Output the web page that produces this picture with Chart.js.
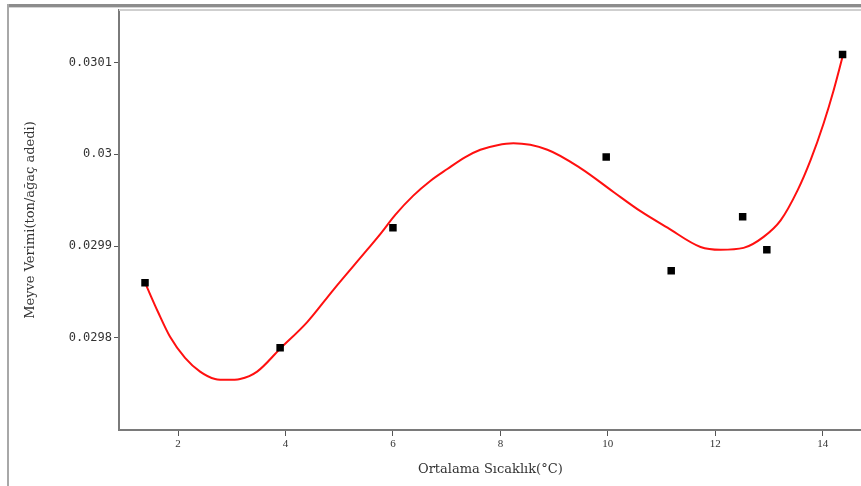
<!DOCTYPE html>
<html>
<head>
<meta charset="utf-8">
<script src="https://cdn.jsdelivr.net/npm/chart.js@4.4.1/dist/chart.umd.min.js"></script>
<style>
  html, body { margin: 0; padding: 0; background: #ffffff; }
  #wrap { position: relative; width: 861px; height: 486px; overflow: hidden; background: #fff; }
  #c { position: absolute; left: 0; top: 0; }
  .fr { position: absolute; pointer-events: none; }
</style>
</head>
<body>
<div id="wrap">
  <canvas id="c" width="867" height="486"></canvas>
  <div class="fr" style="left:7px; top:4px; width:854px; height:3px; background:#8c8c8c;"></div>
  <div class="fr" style="left:7px; top:7px; width:854px; height:1px; background:#d4d4d4;"></div>
  <div class="fr" style="left:7px; top:4px; width:2px; height:482px; background:#a8a8a8;"></div>
  <div class="fr" style="left:119px; top:9px; width:742px; height:2px; background:#cfcfcf;"></div>
</div>
<script>
// Measured points (Ortalama Sıcaklık, Meyve Verimi)
const pointX = [1.385, 3.900, 6.000, 9.970, 11.180, 12.510, 12.960, 14.370];
const pointY = [0.029860, 0.029789, 0.029920, 0.029997, 0.029873, 0.029932, 0.029896, 0.030109];

// Fitted curve
const curveX = [1.385, 1.627, 1.851, 2.130, 2.410, 2.689, 2.913, 3.155, 3.472, 3.900, 4.404, 4.888,
                5.522, 5.764, 6.043, 6.379, 6.695, 7.012, 7.348, 7.627, 7.944, 8.242, 8.875, 9.490,
                10.105, 10.608, 11.111, 11.726, 12.099, 12.527, 12.900, 13.217, 13.534, 13.776,
                14.018, 14.204, 14.372];
const curveY = [0.029860, 0.029828, 0.029801, 0.029778, 0.029763, 0.029755, 0.029754, 0.029755,
                0.029763, 0.029788, 0.029817, 0.029852, 0.029896, 0.029913, 0.029934, 0.029955,
                0.029971, 0.029984, 0.029997, 0.030005, 0.030010, 0.030012, 0.030005, 0.029985,
                0.029959, 0.029938, 0.029920, 0.029899, 0.029896, 0.029898, 0.029910, 0.029928,
                0.029961, 0.029994, 0.030034, 0.030070, 0.030107];

const xTicks = [2, 4, 6, 8, 10, 12, 14];
const yTicks = [0.0298, 0.0299, 0.0300, 0.0301];
const xTitle = 'Ortalama Sıcaklık(°C)';
const yTitle = 'Meyve Verimi(ton/ağaç adedi)';

const curveData = curveX.map((x, i) => ({ x: x, y: curveY[i] }));
const pointData = pointX.map((x, i) => ({ x: x, y: pointY[i] }));

new Chart(document.getElementById('c'), {
  type: 'scatter',
  data: {
    datasets: [
      {
        type: 'line',
        data: curveData,
        borderColor: '#ff1010',
        borderWidth: 2,
        pointRadius: 0,
        cubicInterpolationMode: 'monotone',
        fill: false,
        order: 2
      },
      {
        type: 'scatter',
        data: pointData,
        pointStyle: 'rect',
        pointRadius: 5.3,
        backgroundColor: '#000000',
        borderColor: '#000000',
        borderWidth: 0,
        order: 1
      }
    ]
  },
  options: {
    responsive: false,
    animation: false,
    devicePixelRatio: 1,
    layout: { padding: { left: 0, right: 0, top: 10, bottom: 0 } },
    plugins: { legend: { display: false }, tooltip: { enabled: false } },
    scales: {
      x: {
        type: 'linear',
        min: 0.9007,
        max: 14.726,
        afterBuildTicks: (s) => { s.ticks = xTicks.map(v => ({ value: v })); },
        afterFit: (s) => { s.height = 56; s.paddingLeft = 0; s.paddingRight = 0; },
        border: { display: true, color: '#7a7a7a', width: 2 },
        grid: { display: true, drawOnChartArea: false, drawTicks: true, tickLength: 6, color: '#555555', lineWidth: 1 },
        ticks: {
          padding: 2,
          color: '#333333',
          font: { family: 'Liberation Serif', size: 11 },
          maxRotation: 0,
          callback: (v) => String(v)
        },
        title: {
          display: true,
          text: xTitle,
          color: '#333333',
          font: { family: 'DejaVu Serif', size: 13 },
          padding: { top: 0, bottom: 9 }
        }
      },
      y: {
        type: 'linear',
        min: 0.02969931,
        max: 0.03015749,
        afterBuildTicks: (s) => { s.ticks = yTicks.map(v => ({ value: v })); },
        afterFit: (s) => { s.width = 119; s.paddingTop = 0; s.paddingBottom = 0; },
        border: { display: true, color: '#7a7a7a', width: 2 },
        grid: { display: true, drawOnChartArea: false, drawTicks: true, tickLength: 5, color: '#555555', lineWidth: 1 },
        ticks: {
          padding: 2,
          color: '#333333',
          font: { family: 'DejaVu Sans Mono', size: 12 },
          callback: (v) => String(Number(v.toFixed(4)))
        },
        title: {
          display: true,
          text: yTitle,
          color: '#333333',
          font: { family: 'DejaVu Serif', size: 13 },
          padding: { top: 23, bottom: 0 }
        }
      }
    }
  }
});
</script>
</body>
</html>
